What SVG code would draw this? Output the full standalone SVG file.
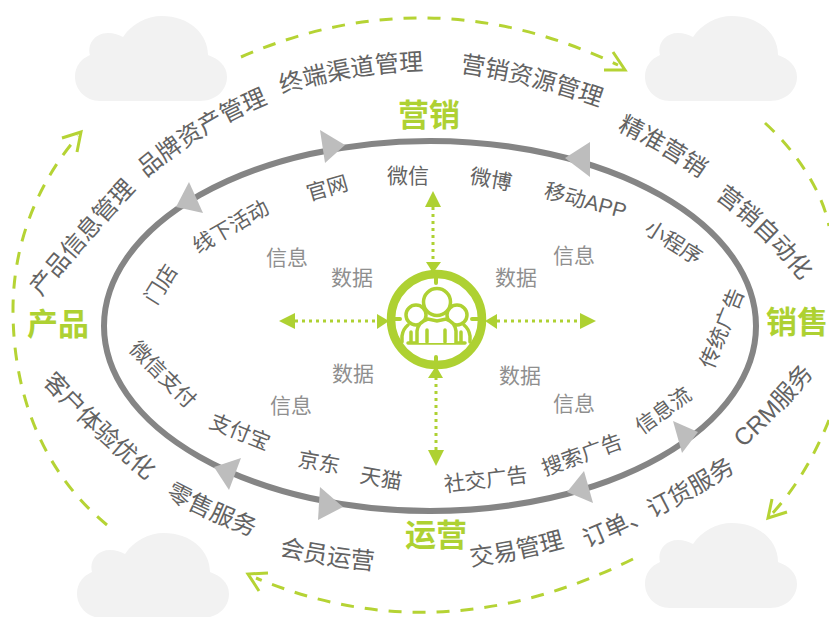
<svg xmlns="http://www.w3.org/2000/svg" width="829" height="617" viewBox="0 0 829 617">
<defs>
<style>
text{font-family:"Liberation Sans","Noto Sans CJK SC",sans-serif}
.o{font-size:24px;fill:#636363}
.i{font-size:21px;fill:#636363}
.g{font-size:21px;fill:#8f8f8f;text-anchor:middle}
.c{font-size:31px;font-weight:bold;fill:#aed132;text-anchor:middle}
.d{fill:none;stroke:#b5d334;stroke-width:3;stroke-dasharray:13 11}
.h{fill:none;stroke:#b5d334;stroke-width:3}
.t{fill:#bdbdbd}
.p{fill:none;stroke:#aed132;stroke-width:3;stroke-dasharray:3 4}
.a{fill:#aed132}
.r{fill:none;stroke:#aed132;stroke-linecap:round}
.n{fill:#fff;stroke:#aed132;stroke-width:3.5}
</style>
<path id="cloud" d="M25 85C10 85 0 73 0 61C0 50 6 43 15 39C12 28 20 17 33 17C39 17 44 19 48 21C57 8 71 0 87 0C113 0 133 17 133 39C144 43 152 50 152 61C152 74 141 85 125 85Z" fill="#f2f2f2"/>
<path id="l1" d="M41 297Q87 241 137 188"/>
<path id="l2" d="M146 178Q203 129 272 102"/>
<path id="l3" d="M282 94Q350 72 426 70"/>
<path id="l4" d="M460 72Q530 82 600 107"/>
<path id="l5" d="M617 130Q660 150 702 180"/>
<path id="l6" d="M715 198Q763 233 802 282"/>
<path id="l7" d="M743 448Q783 412 815 372"/>
<path id="l8" d="M587 548Q665 516 737 470"/>
<path id="l9" d="M471 566Q520 560 569 546"/>
<path id="l10" d="M279 555Q326 566 376 570"/>
<path id="l11" d="M165 497Q208 520 254 537"/>
<path id="l12" d="M42 382Q90 435 149 482"/>
</defs>
<g id="cloud-1"><use href="#cloud" x="75" y="16"/></g>
<g id="cloud-2"><use href="#cloud" x="645" y="16"/></g>
<g id="cloud-3"><use href="#cloud" x="77" y="533"/></g>
<g id="cloud-4"><use href="#cloud" x="645" y="523"/></g>
<g id="connectors">
<ellipse cx="430" cy="326" rx="326" ry="185" fill="none" stroke="#858585" stroke-width="6"/>
<polygon class="t" points="189,182 203,213 176,207"/>
<polygon class="t" points="320,130 345,145 325,163"/>
<polygon class="t" points="590,142 565,158 590,177"/>
<polygon class="t" points="673,421 698,432 682,453"/>
<polygon class="t" points="584,471 567,492 593,503"/>
<polygon class="t" points="320,487 343,507 318,520"/>
<polygon class="t" points="241,458 214,467 229,490"/>
<path class="d" d="M241 57Q430 -25 618 65"/>
<path class="h" d="M613 52L625 70L604 70"/>
<path class="d" d="M765 123C795 150 822 190 829 226"/>
<path class="d" d="M829 420C815 455 795 490 769 517"/>
<path class="h" d="M772 499L768 518L787 512"/>
<path class="d" d="M633 559Q440 655 256 578"/>
<path class="h" d="M268 573L248 574L259 591"/>
<path class="d" d="M107 525C40 470 13 390 13 310C13 240 40 180 78 136"/>
<path class="h" d="M62 138L81 132L77 152"/>
<path class="p" d="M433 200V262"/><polygon class="a" points="433,191 425,207 441,207"/>
<path class="p" d="M436 377V455"/><polygon class="a" points="436,466 428,450 444,450"/>
<path class="p" d="M295 321H377"/><polygon class="a" points="279,321 295,313 295,329"/>
<path class="p" d="M497 321H580"/><polygon class="a" points="596,321 580,313 580,329"/>
</g>
<g id="hub">
<circle class="r" cx="436.500" cy="319.500" r="45.500" stroke-width="8.500"/>
<polygon class="a" points="426,262 441,262 433,273"/>
<polygon class="a" points="428,378 443,378 436,366"/>
<polygon class="a" points="377,314 377,329 389,321"/>
<polygon class="a" points="497,314 497,329 485,321"/>
<path class="r" stroke-width="4" d="M436 274V283M436 357V367M393 319H400M472 319H482"/>
<circle class="n" cx="416" cy="315" r="10"/>
<circle class="n" cx="457" cy="315" r="10"/>
<path class="r" stroke-width="3.500" d="M402 342V336Q403 329 408 325M470 342V336Q469 329 464 325M408 343H465M411 332V342M461 332V342"/>
<circle class="n" cx="437" cy="302" r="13.500"/>
<path class="n" d="M417 343V331Q418 322 428 319L437 321L446 319Q455 322 456 331V343"/>
<path class="r" stroke-width="3.500" d="M427 330V342M445 330V342"/>
</g>
<g id="labels-outer">
<text class="o"><textPath href="#l1">产品信息管理</textPath></text>
<text class="o"><textPath href="#l2">品牌资产管理</textPath></text>
<text class="o"><textPath href="#l3">终端渠道管理</textPath></text>
<text class="o"><textPath href="#l4">营销资源管理</textPath></text>
<text class="o"><textPath href="#l5">精准营销</textPath></text>
<text class="o"><textPath href="#l6">营销自动化</textPath></text>
<text class="o"><textPath href="#l7">CRM服务</textPath></text>
<text class="o"><textPath href="#l8">订单、订货服务</textPath></text>
<text class="o"><textPath href="#l9">交易管理</textPath></text>
<text class="o"><textPath href="#l10">会员运营</textPath></text>
<text class="o"><textPath href="#l11">零售服务</textPath></text>
<text class="o"><textPath href="#l12">客户体验优化</textPath></text>
</g>
<g id="labels-inner">
<text class="i" transform="translate(156,306) rotate(-58)">门店</text>
<text class="i" transform="translate(198,254) rotate(-30)">线下活动</text>
<text class="i" transform="translate(309,201) rotate(-16)">官网</text>
<text class="i" transform="translate(387,183)">微信</text>
<text class="i" transform="translate(469,183) rotate(10)">微博</text>
<text class="i" transform="translate(543,197) rotate(15)">移动APP</text>
<text class="i" transform="translate(643,232) rotate(32)">小程序</text>
<text class="i" transform="translate(713,370) rotate(-68)">传统广告</text>
<text class="i" transform="translate(642,435) rotate(-36)">信息流</text>
<text class="i" transform="translate(545,476) rotate(-20)">搜索广告</text>
<text class="i" transform="translate(445,492) rotate(-7)">社交广告</text>
<text class="i" transform="translate(359,482) rotate(10)">天猫</text>
<text class="i" transform="translate(297,466) rotate(10)">京东</text>
<text class="i" transform="translate(208,427) rotate(22)">支付宝</text>
<text class="i" transform="translate(128,350) rotate(45)">微信支付</text>
<text class="g" x="287" y="265">信息</text>
<text class="g" x="352" y="285">数据</text>
<text class="g" x="516" y="285">数据</text>
<text class="g" x="574" y="263">信息</text>
<text class="g" x="353" y="381">数据</text>
<text class="g" x="520" y="383">数据</text>
<text class="g" x="291" y="413">信息</text>
<text class="g" x="574" y="411">信息</text>
</g>
<g id="labels-stage">
<text class="c" x="429" y="126">营销</text>
<text class="c" x="58" y="335">产品</text>
<text class="c" x="797" y="333">销售</text>
<text class="c" x="436" y="546">运营</text>
</g>
</svg>
